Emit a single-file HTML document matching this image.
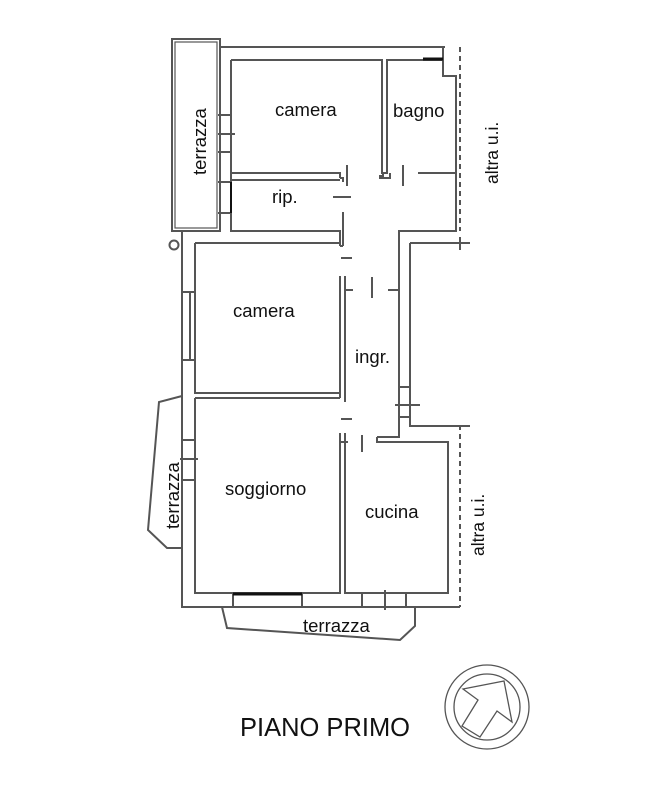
<!DOCTYPE html>
<html><head><meta charset="utf-8"><style>
html,body{margin:0;padding:0;background:#fff;width:662px;height:800px;overflow:hidden}
svg{display:block}
text{font-family:"Liberation Sans",sans-serif;fill:#111}
</style></head><body>
<svg width="662" height="800" viewBox="0 0 662 800" xmlns="http://www.w3.org/2000/svg">
<g fill="none" stroke="#555" stroke-width="2">
<rect x="172" y="39" width="48" height="192"/>
<rect x="175" y="42" width="42" height="186" stroke-width="1.2"/>
<path d="M220 47 H445"/>
<path d="M443 47 V60 H423"/>
<path d="M231 60 H382 V173 H387 V60 H443 V76 H456 V231 H399 V437 H377"/>
<path d="M231 60 V173 H340 V178"/>
<path d="M231 173 V180 M231 180 H340"/>
<path d="M231 180 V231 H340 V246"/>
<path d="M340 178 H343 V182"/>
<path d="M383 173 V176 H380 V178 H390 V173"/>
<path d="M418 173 H456"/>
<path d="M347 165 V186 M403 165 V186"/>
<path d="M333 197 H351"/>
<path d="M343 212 V246 M340 246 H343"/>
<path d="M182 231 V607 H460"/>
<path d="M195 243 H340"/>
<path d="M195 243 V393 H340"/>
<path d="M195 398 V593 H340 V442"/>
<path d="M195 398 H340"/>
<path d="M340 276 V398 M345 276 V402"/>
<path d="M345 290 H353 M398 290 H388"/>
<path d="M341 258 H352"/>
<path d="M372 277 V298"/>
<path d="M341 419 H352"/>
<path d="M340 433 V442 H345 V433 M345 442 H348"/>
<path d="M362 435 V452"/>
<path d="M377 437 V442 H448 V593 H345 V442"/>
<path d="M410 243 V426 H470"/>
<path d="M410 243 H470"/>
<path d="M400 387 H410 M400 417 H410"/>
<path d="M395 405 H420"/>
<path d="M218 115 H231 V152 H218 M218 134 H235 M218 182 H231 V213 H218"/>
<path d="M182 292 H195 M182 360 H195 M190 292 V360"/>
<path d="M182 440 H195 V480 H182 M180 459 H198"/>
<path d="M233 593 V607 M302 593 V607 M362 593 V607 M406 593 V607 M385 590 V610"/>
<path d="M182 396 L159 402 L148 530 L167 548 H182"/>
<path d="M222 607 L227 628 L400 640 L415 626 V607"/>
<path d="M460 47 V231 M460 425 V607" stroke-dasharray="5 4"/>
<path d="M455 243 H465 M460 237 V250"/>
<circle cx="487" cy="707" r="42" stroke-width="1.3"/>
<circle cx="487" cy="707" r="33" stroke-width="1.3"/>
<path d="M463 689 L504 681 L512 722 L497 711 L480 737 L462 726 L478 700 Z" stroke-width="1.3"/>
<circle cx="174" cy="245" r="4.5"/>
</g>
<path d="M233 594 H302" stroke="#111" stroke-width="3"/>
<path d="M231 182 V213" stroke="#111" stroke-width="2"/>
<path d="M423 59 H443" stroke="#111" stroke-width="3"/>
<text x="275" y="116" font-size="18.5">camera</text>
<text x="393" y="117" font-size="18.5">bagno</text>
<text x="272" y="203" font-size="18.5">rip.</text>
<text x="233" y="317" font-size="18.5">camera</text>
<text x="355" y="363" font-size="18.5">ingr.</text>
<text x="225" y="495" font-size="18.5">soggiorno</text>
<text x="365" y="518" font-size="18.5">cucina</text>
<text x="303" y="632" font-size="18.5">terrazza</text>
<text x="240" y="736" font-size="25.5">PIANO PRIMO</text>
<text transform="translate(206 175) rotate(-90)" font-size="18.5">terrazza</text>
<text transform="translate(179 529) rotate(-90)" font-size="18.5">terrazza</text>
<text transform="translate(498 184) rotate(-90)" font-size="17.5">altra u.i.</text>
<text transform="translate(484 556) rotate(-90)" font-size="17.5">altra u.i.</text>
</svg>
</body></html>
